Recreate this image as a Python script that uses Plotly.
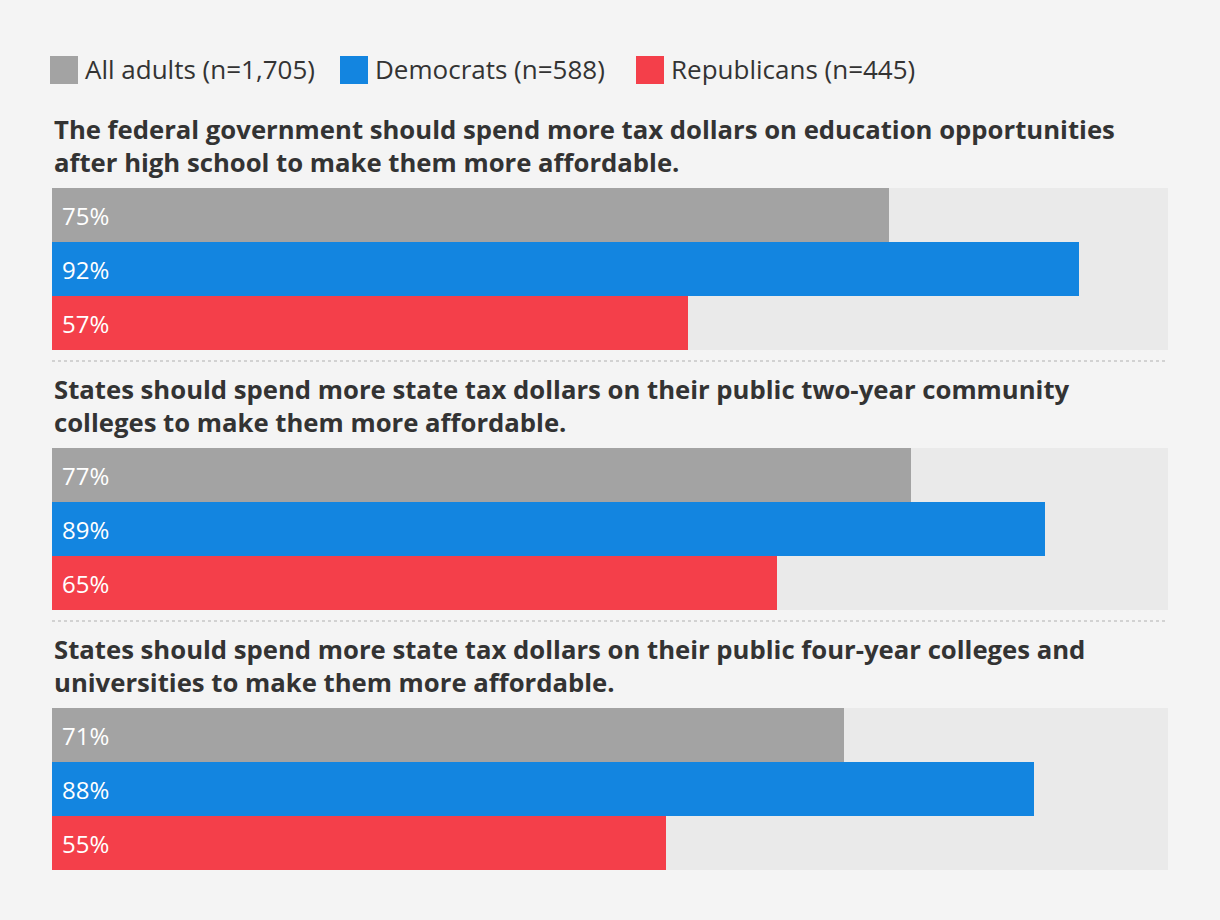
import plotly.graph_objects as go

# ---- data ----
questions = [
    "The federal government should spend more tax dollars on education opportunities<br>after high school to make them more affordable.",
    "States should spend more state tax dollars on their public two-year community<br>colleges to make them more affordable.",
    "States should spend more state tax dollars on their public four-year colleges and<br>universities to make them more affordable.",
]
groups = ["All adults (n=1,705)", "Democrats (n=588)", "Republicans (n=445)"]
all_adults = [75, 77, 71]
democrats = [92, 89, 88]
republicans = [57, 65, 55]
colors = ["#a3a3a3", "#1385e0", "#f43f4a"]

W, H = 1220, 920
L, R = 52, 1168
BG = "#f4f4f4"
TRACK = "#eaeaea"
TXT = "#333333"
FONT = "Open Sans"

def px_x(p):
    return (p - L) / (R - L)

def px_y(p):
    return 1 - p / H

fig = go.Figure()
layout_axes = {}
annotations = []
shapes = []

series = [all_adults, democrats, republicans]
for k, q in enumerate(questions):
    top = 188 + 260 * k
    bot = 350 + 260 * k
    yname = "y" if k == 0 else f"y{k+1}"
    axkey = "yaxis" if k == 0 else f"yaxis{k+1}"
    layout_axes[axkey] = dict(
        domain=[px_y(bot), px_y(top)],
        categoryorder="array", categoryarray=groups,
        autorange="reversed", showticklabels=False, showgrid=False,
        zeroline=False, fixedrange=True, anchor="x",
    )
    # track
    fig.add_trace(go.Bar(
        x=[100] * 3, y=groups, orientation="h", yaxis=yname,
        marker=dict(color=TRACK, line=dict(width=0)),
        showlegend=False, hoverinfo="skip",
    ))
    vals = [s[k] for s in series]
    fig.add_trace(go.Bar(
        x=vals, y=groups, orientation="h", yaxis=yname,
        marker=dict(color=colors, line=dict(width=0)),
        showlegend=False, hovertemplate="%{y}: %{x}%<extra></extra>",
    ))
    for g, v in zip(groups, vals):
        annotations.append(dict(
            x=0, y=g, xref="x", yref=yname, xanchor="left", yanchor="middle",
            xshift=8, text=f"{v}%", showarrow=False,
            font=dict(family=FONT, size=24, color="white"),
        ))
    # question title
    annotations.append(dict(
        x=0, y=px_y(top - 42), xref="paper", yref="paper",
        xanchor="left", yanchor="middle", align="left",
        text=f"<b>{q}</b>", showarrow=False,
        font=dict(family=FONT, size=25.7, color=TXT),
    ))
    if k < len(questions) - 1:
        yy = px_y(bot + 11)
        shapes.append(dict(
            type="line", xref="paper", yref="paper", x0=0, x1=1, y0=yy, y1=yy,
            line=dict(color="#d2d2d2", width=2, dash="dot"),
        ))

# legend (custom, to match large square swatches)
legend_x = [50, 340, 636]
for g, c, lx in zip(groups, colors, legend_x):
    shapes.append(dict(
        type="rect", xref="paper", yref="paper",
        x0=px_x(lx), x1=px_x(lx + 28), y0=px_y(84), y1=px_y(56),
        fillcolor=c, line=dict(width=0),
    ))
    annotations.append(dict(
        x=px_x(lx + 33), y=px_y(69), xref="paper", yref="paper",
        xanchor="left", yanchor="middle", text=g, showarrow=False,
        font=dict(family=FONT, size=26, color=TXT),
    ))

fig.update_layout(
    width=W, height=H,
    margin=dict(l=L, r=W - R, t=0, b=0),
    paper_bgcolor=BG, plot_bgcolor=BG,
    barmode="overlay", bargap=0,
    xaxis=dict(range=[0, 100], showticklabels=False, showgrid=False,
               zeroline=False, fixedrange=True),
    annotations=annotations, shapes=shapes,
    showlegend=False,
    **layout_axes,
)

fig.write_html(
    "out.html",
    config={"displayModeBar": False},
    post_script="document.body.style.margin='0';document.body.style.background='#f4f4f4';",
)
